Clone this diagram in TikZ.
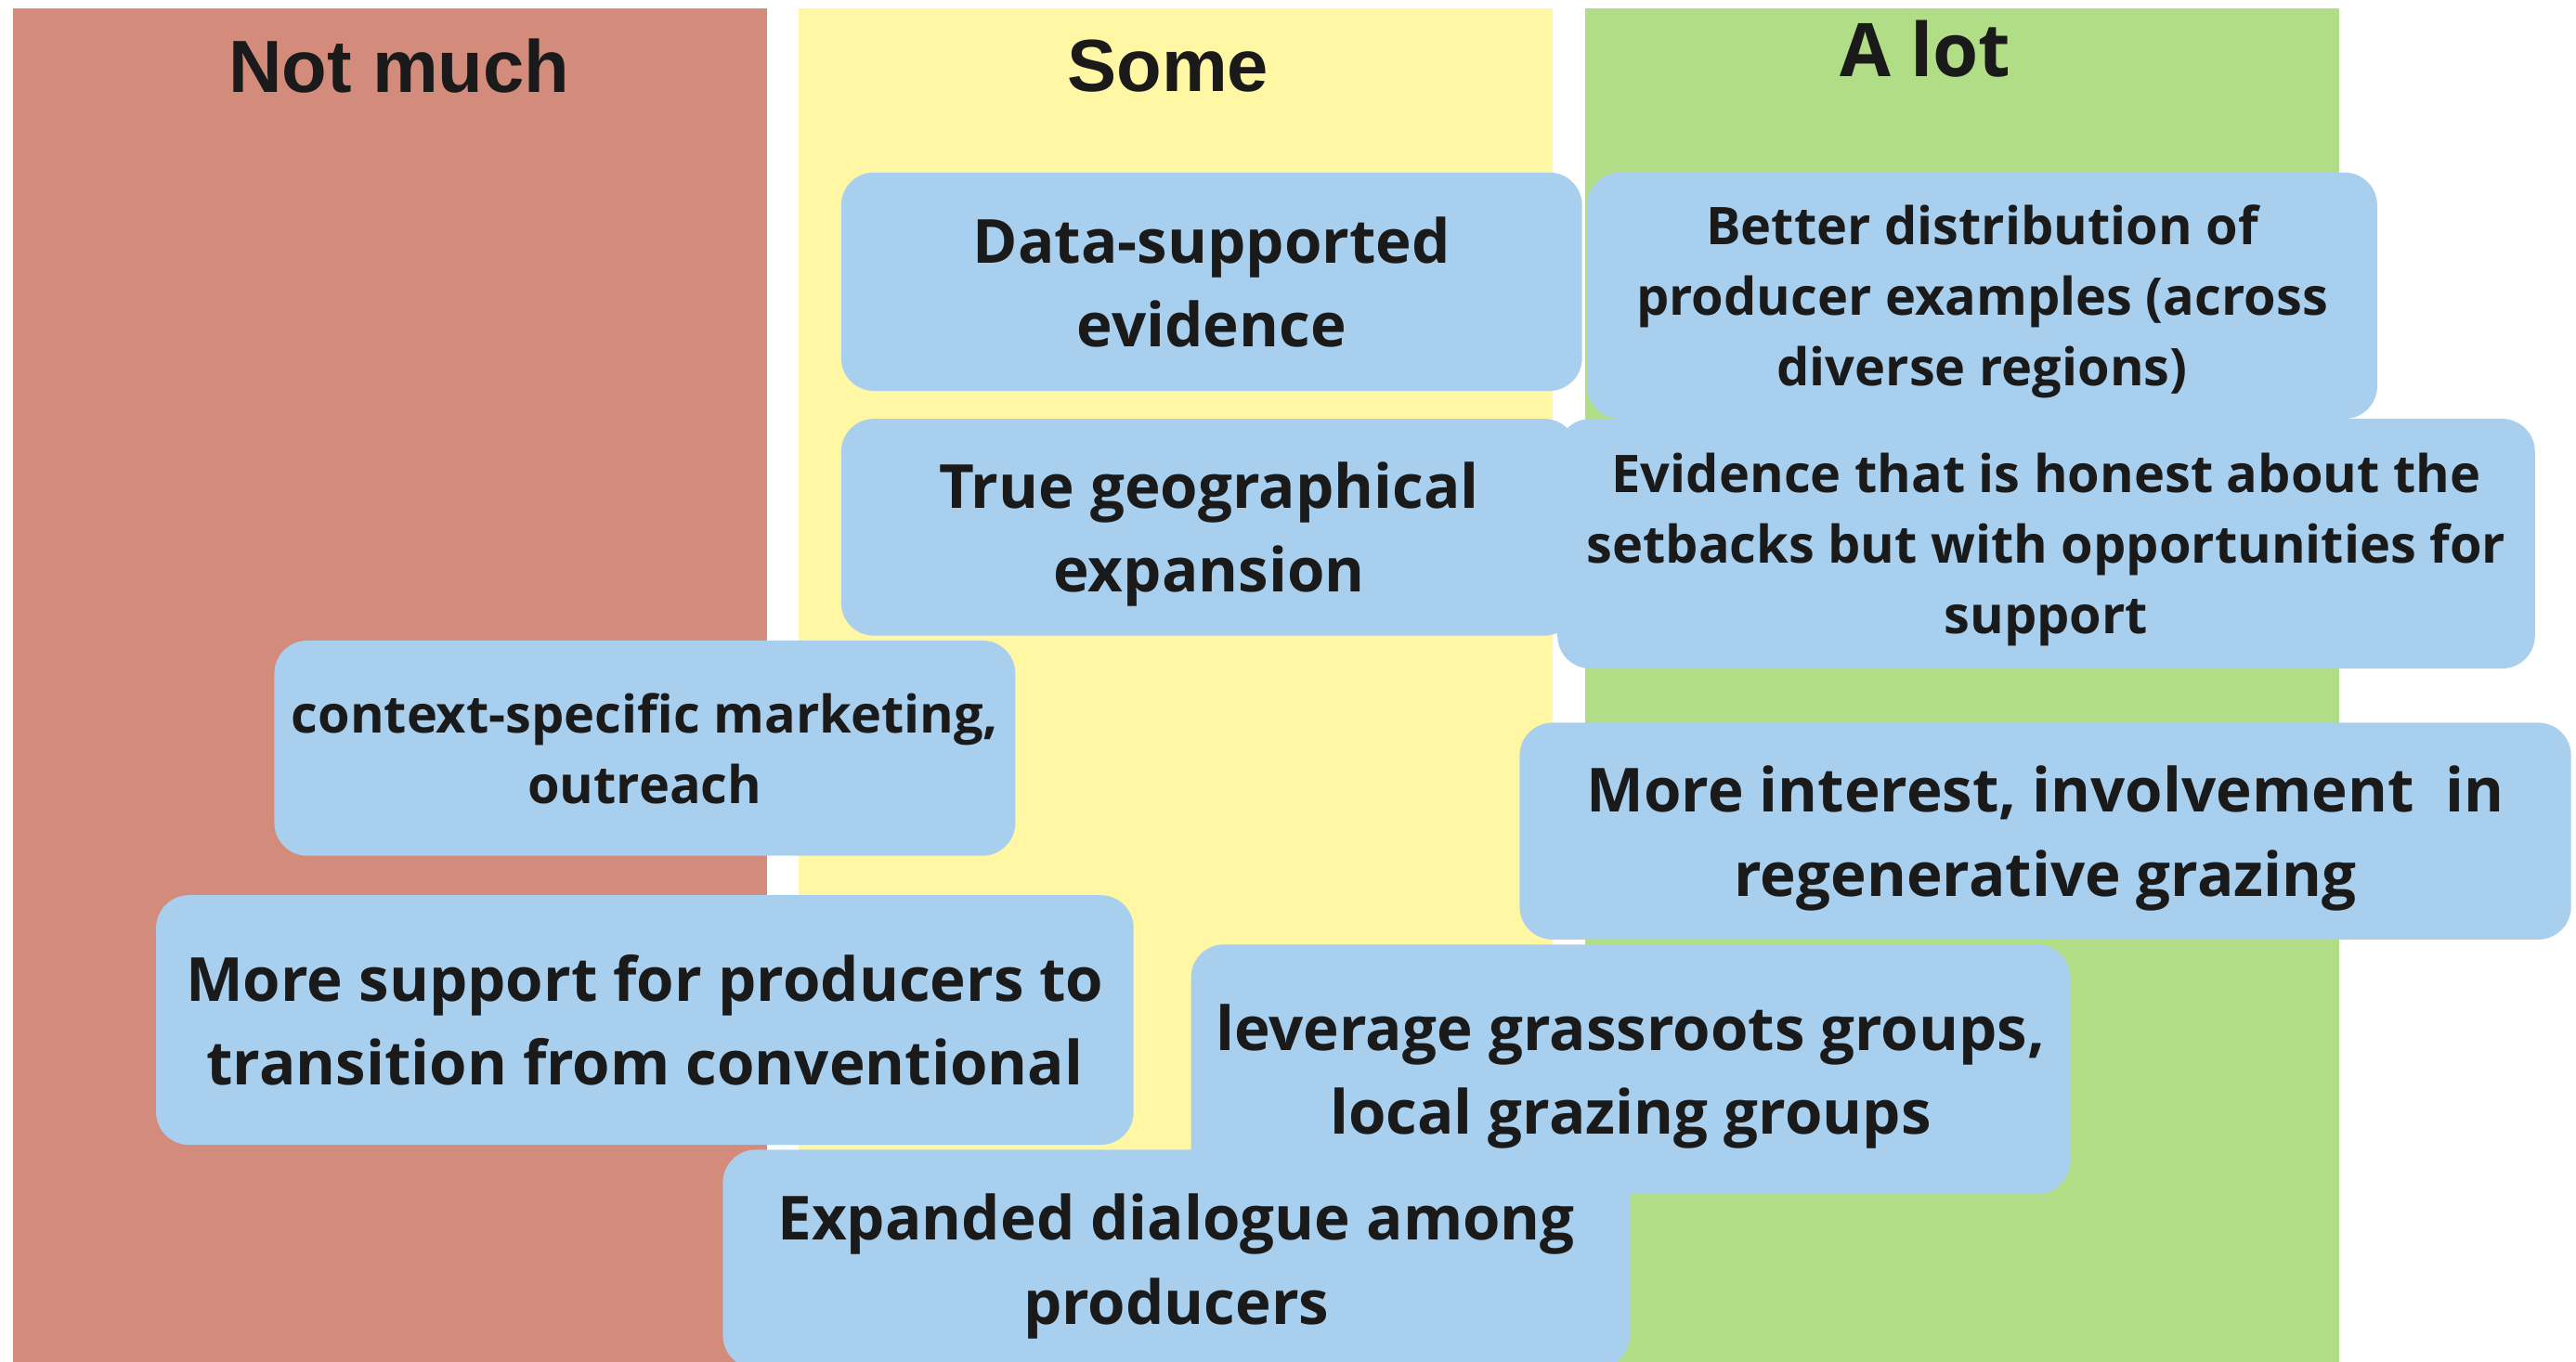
\documentclass[tikz,border=0pt]{standalone}
\usepackage{fontspec}
\setmainfont{Open Sans}
\newfontfamily\headfont{Liberation Sans}
\usepackage{xcolor}
\usetikzlibrary{positioning}

\definecolor{notmuchred}{HTML}{D38B7C}
\definecolor{someyellow}{HTML}{FFF7A3}
\definecolor{alotgreen}{HTML}{B1DD86}
\definecolor{ideablue}{HTML}{A9CFEE}
\definecolor{ink}{HTML}{1A1A1A}

\begin{document}
\begin{tikzpicture}[x=1pt,y=-1pt,
    idea/.style={fill=ideablue, rounded corners=20pt, align=center, inner sep=0pt,
                 text=ink, text depth=0pt, font=\bfseries\fontsize{37}{51}\selectfont},
    smalltext/.style={font=\bfseries\fontsize{31.6}{43}\selectfont},
    head/.style={text=ink, font=\headfont\bfseries\fontsize{45}{50}\selectfont}]

    \clip (0,0) rectangle (1568,829);
    \useasboundingbox (0,0) rectangle (1568,829);

    % the three columns
    \fill[notmuchred] (8,5) rectangle (467,829);
    \fill[someyellow] (486,5) rectangle (945,829);
    \fill[alotgreen] (965,5) rectangle (1424,829);

    \node[head] (notmuch) at (243,40) {Not much};
    \node[head] (some) at (711,40) {Some};
    \node[head, font=\bfseries\fontsize{45}{50}\selectfont] (alot) at (1172,30) {A lot};

    % ideas
    \node[idea, minimum width=451pt, minimum height=133pt] (data) at (737.5,171.5)
        {Data-supported\\evidence};
    \node[idea, smalltext, minimum width=481pt, minimum height=150pt] (distribution) at (1206.5,180)
        {Better distribution of\\producer examples (across\\diverse regions)};
    \node[idea, minimum width=448pt, minimum height=132pt] (expansion) at (736,321)
        {True geographical\\expansion};
    \node[idea, smalltext, minimum width=595pt, minimum height=152pt] (honest) at (1245.5,331)
        {Evidence that is honest about the\\setbacks but with opportunities for\\support};
    \node[idea, smalltext, minimum width=451pt, minimum height=131pt] (marketing) at (392.5,455.5)
        {context-specific marketing,\\outreach};
    \node[idea, minimum width=640pt, minimum height=132pt] (interest) at (1245,506)
        {More interest, involvement\ \ in\\regenerative grazing};
    \node[idea, minimum width=595pt, minimum height=152pt] (transition) at (392.5,621)
        {More support for producers to\\transition from conventional};
    \node[idea, minimum width=535pt, minimum height=152pt] (grassroots) at (992.5,651)
        {leverage grassroots groups,\\local grazing groups};
    \node[idea, minimum width=552pt, minimum height=133pt] (dialogue) at (716,766.5)
        {Expanded dialogue among\\producers};
\end{tikzpicture}
\end{document}
